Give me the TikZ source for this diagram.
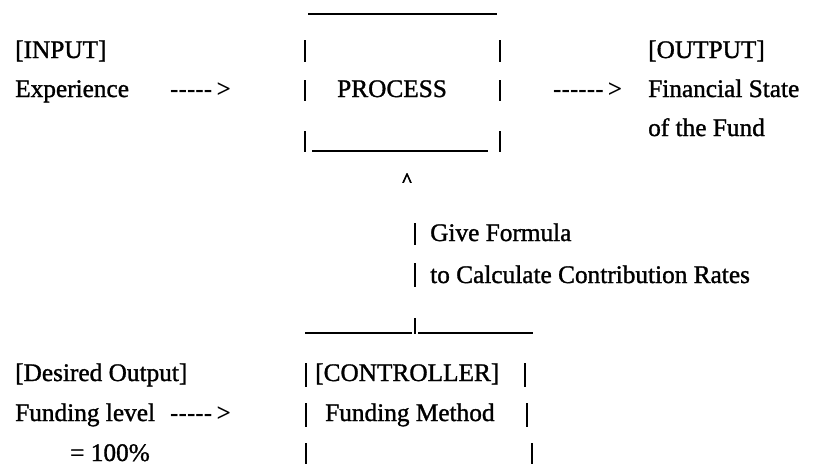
\documentclass[tikz,border=0pt]{standalone}
\usepackage{fontspec}
\setmainfont{Liberation Serif}
\newfontfamily\heavyserif{Liberation Serif}[FakeBold=1.2]
\newfontfamily\caretfont{Liberation Serif}[FakeBold=4]
\begin{document}
\begin{tikzpicture}[x=1pt,y=-1pt,
  lbl/.style={anchor=base west, inner sep=0pt, font=\heavyserif\fontsize{25.3}{30}\selectfont},
  arr/.style={anchor=base west, inner sep=0pt, font=\bfseries\fontsize{25.3}{30}\selectfont},
  caretstyle/.style={inner sep=0pt, font=\caretfont\fontsize{19}{22}\selectfont},
  rule/.style={line width=1.8pt},
  bar/.style={line width=1.4pt}]
\useasboundingbox[fill=white] (0,0) rectangle (827,466);
% input / output texts
\node[lbl] (input) at (15,58) {[INPUT]};
\node[lbl] (exp) at (15,97) {Experience};
\node[arr] (a1) at (170,97) {-{}-{}-{}-{}-\,>};
\node[lbl] (proc) at (337,97) {PROCESS};
\node[arr] (a2) at (553,97) {-{}-{}-{}-{}-{}-\,>};
\node[lbl] (output) at (648,58) {[OUTPUT]};
\node[lbl] (fin) at (648,97) {Financial State};
\node[lbl] (fund) at (648,136) {of the Fund};
% process box
\coordinate (ptl) at (308,14); \coordinate (ptr) at (497,14);
\draw[rule] (ptl) -- (ptr);
\coordinate (pbl) at (312,151); \coordinate (pbr) at (488,151);
\draw[rule] (pbl) -- (pbr);
\foreach \x in {305,500}{
  \draw[bar] (\x,40) -- (\x,62);
  \draw[bar] (\x,80) -- (\x,101);
  \draw[bar] (\x,131) -- (\x,152);
}
\node[caretstyle, anchor=base] (caret) at (407,186) {\textasciicircum};
% feedback
\draw[bar] (415,223) -- (415,245);
\node[lbl] (give) at (430,241) {Give Formula};
\draw[bar] (415,263) -- (415,287);
\node[lbl] (calc) at (430,283) {to Calculate Contribution Rates};
% controller
\coordinate (ctl) at (305,333); \coordinate (ctm) at (412,333);
\coordinate (ctn) at (418,333); \coordinate (ctr) at (533,333);
\draw[rule] (ctl) -- (ctm);
\draw[rule] (ctn) -- (ctr);
\draw[bar] (415,318) -- (415,334);
\draw[bar] (306,363) -- (306,387);
\draw[bar] (306,403) -- (306,427);
\draw[bar] (306,443) -- (306,464);
\draw[bar] (525,363) -- (525,387);
\draw[bar] (527,403) -- (527,427);
\draw[bar] (532,443) -- (532,464);
\node[lbl] (ctrl) at (315,381) {[CONTROLLER]};
\node[lbl] (meth) at (325,421) {Funding Method};
\node[lbl] (des) at (15,381) {[Desired Output]};
\node[lbl] (lev) at (15,421) {Funding level};
\node[arr] (a3) at (170,421) {-{}-{}-{}-{}-\,>};
\node[lbl] (pct) at (70,461) {= 100\%};
\end{tikzpicture}
\end{document}
